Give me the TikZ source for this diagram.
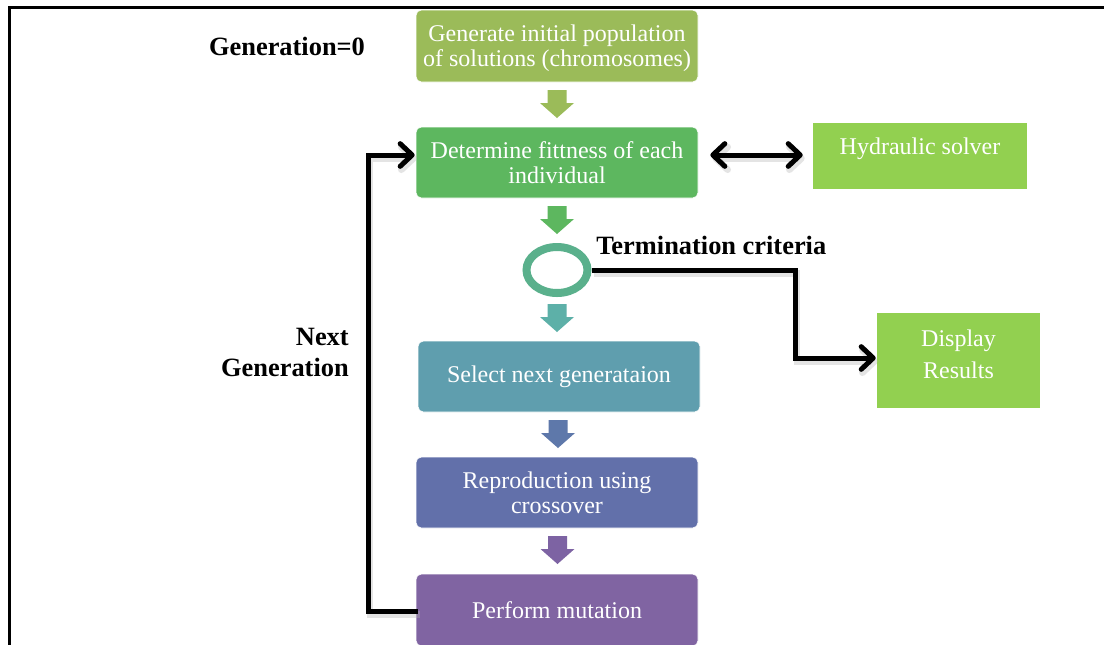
\documentclass[tikz,border=0pt]{standalone}
\usepackage{fontspec}
\setmainfont{Liberation Serif}
\usetikzlibrary{arrows.meta,calc,shapes.geometric}
\definecolor{cOlive}{HTML}{9BBB59}
\definecolor{cGreen}{HTML}{5DB75F}
\definecolor{cRing}{HTML}{5AB08C}
\definecolor{cTeal}{HTML}{5DB0A8}
\definecolor{cSel}{HTML}{5F9EAE}
\definecolor{cBlueA}{HTML}{5E78AA}
\definecolor{cRep}{HTML}{6270AA}
\definecolor{cPurA}{HTML}{7D63A3}
\definecolor{cMut}{HTML}{8064A2}
\definecolor{cLime}{HTML}{92D050}
\tikzset{
  flowbox/.style={rectangle, rounded corners=4pt, draw=white, line width=0.5pt,
    minimum width=211.5pt, minimum height=53.25pt, inner sep=0pt,
    text=white, align=center, font=\fontsize{18}{18.75}\selectfont},
  sidebox/.style={rectangle, draw=none, inner sep=0pt},
  boxtext/.style={text=white, inner sep=0pt, align=center, font=\fontsize{18}{24}\selectfont},
  boldlbl/.style={text=black, inner sep=0pt, align=right, font=\bfseries\fontsize{19.8}{23.25}\selectfont},
  conn/.style={draw=black, line width=3.75pt, line join=miter,
    preaction={draw=black!30, opacity=0.35, line width=5pt, transform canvas={xshift=1.5pt,yshift=-2.5pt}}},
  barb/.tip={Straight Barb[length=9pt,width=17pt,round]}
}
\newcommand\blockdown[3]{%
  \fill[#3] ({#1-9.5},#2) -- ({#1+9.5},#2) -- ({#1+9.5},{#2+13}) -- ({#1+17},{#2+13})
    -- (#1,{#2+28}) -- ({#1-17},{#2+13}) -- ({#1-9.5},{#2+13}) -- cycle;}
\begin{document}
\begin{tikzpicture}[x=0.75pt,y=-0.75pt]
\useasboundingbox (0,0) rectangle (1104,644);
\fill[white] (0,0) rectangle (1104,644);
% frame
\draw[line width=1.9pt] (9.5,650) -- (9.5,7.5) -- (1110,7.5);

% main boxes
\node[flowbox, fill=cOlive, minimum height=54pt] (gen) at (557,46) {};
\node[text=white, align=center, inner sep=0pt, font=\fontsize{18}{18.75}\selectfont] (gentxt) at ($(gen.center)+(0,2)$) {Generate initial population\\of solutions (chromosomes)};
\node[flowbox, fill=cGreen] (fit) at (557,162.5) {Determine fittness of each\\individual};
\node[draw=cRing, line width=6pt, ellipse, minimum width=45.75pt, minimum height=34.5pt, inner sep=0pt] (term) at (557,270) {};
\node[flowbox, fill=cSel] (sel) at (559,376.5) {Select next generataion};
\node[flowbox, fill=cRep] (rep) at (557,492.5) {Reproduction using\\crossover};
\node[flowbox, fill=cMut, minimum height=54pt] (mut) at (557,610) {Perform mutation};

% side boxes
\node[sidebox, fill=cLime, minimum width=160.5pt, minimum height=49.5pt] (hyd) at (920,156) {};
\node[boxtext, anchor=base] (hydtxt) at ($(hyd.north)+(0,32)$) {Hydraulic solver};
\node[sidebox, fill=cLime, minimum width=122.25pt, minimum height=71.25pt] (disp) at (958.5,360.5) {};
\node[boxtext] (disptxt) at ($(disp.center)+(0,-6)$) {Display\\Results};

% block arrows
\blockdown{557}{90}{cOlive}
\blockdown{557}{206}{cGreen}
\blockdown{557}{304}{cTeal}
\blockdown{558}{420}{cBlueA}
\blockdown{557.5}{536}{cPurA}

% labels
\node[boldlbl, anchor=center] (g0) at (287,46) {Generation=0};
\node[boldlbl, anchor=base west] (tc) at (596,254) {Termination criteria};
\node[boldlbl, anchor=east] (ng) at (349,352) {Next\\Generation};

% connectors
\draw[conn, barb-barb] ($(fit.east)+(12,-7.5)$) -- ($(hyd.west)+(-10,-1)$);
\draw[conn, -barb] (term.east) -| (795,358) -- ($(disp.west)+(-1,-2.5)$);
\draw[conn, -barb] ($(mut.west)+(2,1)$) -| (368,155) -- ($(fit.west)+(-1,-7.5)$);
\end{tikzpicture}
\end{document}
